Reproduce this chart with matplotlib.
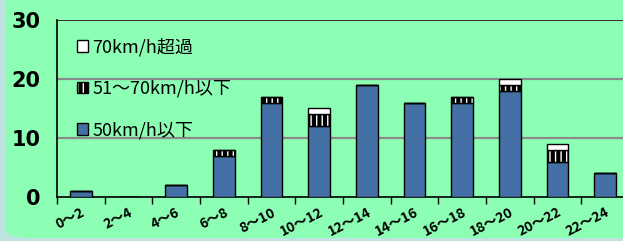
import numpy as np
import matplotlib.pyplot as plt
from matplotlib.patches import FancyBboxPatch, Patch

plt.rcParams['font.family'] = ['Noto Sans CJK JP', 'DejaVu Sans']
plt.rcParams['hatch.linewidth'] = 3.0

# datos
horas = ['0～2', '2～4', '4～6', '6～8', '8～10', '10～12',
         '12～14', '14～16', '16～18', '18～20', '20～22', '22～24']
hasta50 = [1, 0, 2, 7, 16, 12, 19, 16, 16, 18, 6, 4]
de51a70 = [0, 0, 0, 1, 1, 2, 0, 0, 1, 1, 2, 0]
mas70 = [0, 0, 0, 0, 0, 1, 0, 0, 0, 1, 1, 0]

verde = '#8CFFB4'
azul = '#4570A6'

fig = plt.figure(figsize=(6.23, 2.41), dpi=100)
fig.patch.set_facecolor('#BFE3E3')
fondo = FancyBboxPatch((5 / 623, 3 / 241), 1.2, 1.4, boxstyle='round,pad=0,rounding_size=0.04',
                       transform=fig.transFigure, facecolor=verde, edgecolor='none', zorder=-10)
fig.patches.append(fondo)

ax = fig.add_axes([57 / 623, 44 / 241, 572 / 623, 177 / 241])
ax.set_facecolor('none')

x = np.arange(len(horas))
a = np.array(hasta50)
b = np.array(de51a70)
c = np.array(mas70)
w = 0.46
ax.bar(x, a, w, color=azul, edgecolor='black', linewidth=1, zorder=3)
ax.bar(x, b, w, bottom=a, color='white', edgecolor='black', hatch='|||', linewidth=1, zorder=3)
ax.bar(x, c, w, bottom=a + b, color='white', edgecolor='black', linewidth=1, zorder=3)

ax.set_xlim(-0.5, len(horas) - 0.5)
ax.set_ylim(0, 30)
ax.set_yticks([0, 10, 20, 30])
ax.set_yticklabels(['0', '10', '20', '30'], fontsize=15, fontweight='bold', family='DejaVu Sans')
ax.tick_params(axis='y', length=0, pad=12)
for v in [10, 20]:
    ax.axhline(v, color='#8A8A8A', linewidth=1.6, zorder=1)
ax.axhline(30, color='#333333', linewidth=1.4, zorder=1)

ax.set_xticks(x)
ax.set_xticklabels(horas, rotation=27, fontsize=10, fontweight='bold', ha='right',
                   rotation_mode='anchor')
ax.set_xticks(np.arange(-0.5, len(horas)), minor=True)
ax.tick_params(axis='x', which='major', length=0, pad=6)
ax.tick_params(axis='x', which='minor', length=5, width=1, direction='out')

for s in ['top', 'right']:
    ax.spines[s].set_visible(False)
ax.spines['left'].set_linewidth(1.2)
ax.spines['bottom'].set_linewidth(1.2)

handles = [Patch(facecolor='white', edgecolor='black'),
           Patch(facecolor='white', edgecolor='black', hatch='|||'),
           Patch(facecolor=azul, edgecolor='black')]
labels = ['70km/h超過', '51～70km/h以下', '50km/h以下']
ax.legend(handles, labels, loc='upper left', bbox_to_anchor=(0.035, 0.90), frameon=False,
          fontsize=13, labelspacing=1.3, handlelength=0.6, handleheight=0.6,
          handletextpad=0.25, borderaxespad=0, borderpad=0)

fig.savefig('out.png', dpi=100, facecolor=fig.get_facecolor())
